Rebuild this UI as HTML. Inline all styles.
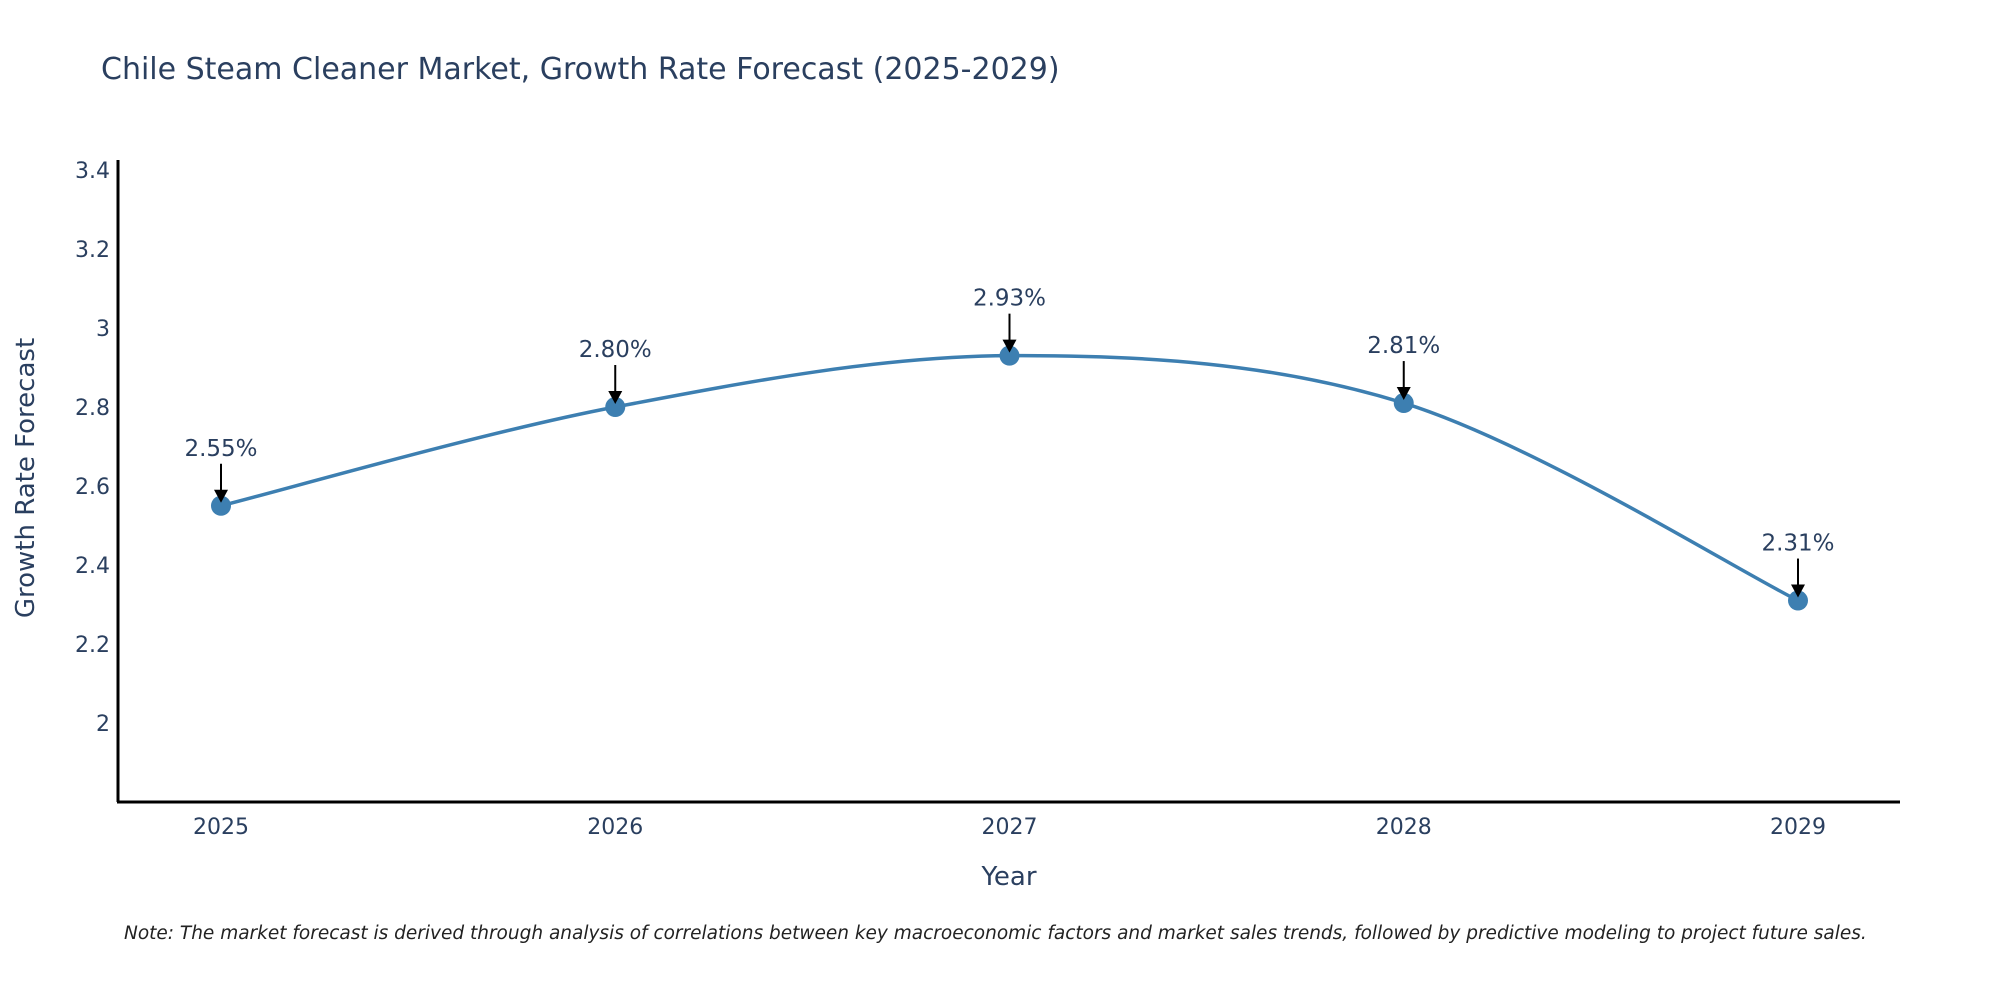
<!DOCTYPE html>
<html><head><meta charset="utf-8"><style>
body{margin:0;background:#fff;}
svg text{font-family:"DejaVu Sans","Liberation Sans",sans-serif;}
</style></head><body>
<svg id="chart" width="2000" height="1000" viewBox="0 0 2000 1000" xmlns="http://www.w3.org/2000/svg">
<rect width="2000" height="1000" fill="#fff"/>
<text x="101" y="79" font-size="30" fill="#2a3f5f">Chile Steam Cleaner Market, Growth Rate Forecast (2025-2029)</text>
<g id="yticks"></g>
<g id="xticks"></g>
<line x1="118" y1="160" x2="118" y2="802" stroke="#000" stroke-width="3"/>
<line x1="117" y1="802" x2="1900" y2="802" stroke="#000" stroke-width="3"/>
<path id="series" fill="none" stroke="#3d7fb1" stroke-width="3.5"/>
<g id="points"></g>
<g id="annots"></g>
<text x="1009" y="885" font-size="26" fill="#2a3f5f" text-anchor="middle">Year</text>
<text transform="translate(34,478) rotate(-90)" font-size="26" fill="#2a3f5f" text-anchor="middle">Growth Rate Forecast</text>
<text x="124" y="939" font-size="18.5" font-style="italic" fill="#222">Note: The market forecast is derived through analysis of correlations between key macroeconomic factors and market sales trends, followed by predictive modeling to project future sales.</text>
</svg>
<script>
const years = [2025, 2026, 2027, 2028, 2029];
const growth = [2.55, 2.80, 2.93, 2.81, 2.31];
const labels = ["2.55%", "2.80%", "2.93%", "2.81%", "2.31%"];
const yTickVals = [2, 2.2, 2.4, 2.6, 2.8, 3, 3.2, 3.4];
const yTickLabels = ["2", "2.2", "2.4", "2.6", "2.8", "3", "3.2", "3.4"];

const NS = "http://www.w3.org/2000/svg";
function xs(v){ return 221 + (v - 2025) * 394.25; }
function ys(v){ return 723 - (v - 2) * 395; }
function mk(tag, attrs, parent){ const e=document.createElementNS(NS,tag); for(const k in attrs) e.setAttribute(k,attrs[k]); parent.appendChild(e); return e; }

const yt=document.getElementById('yticks');
yTickVals.forEach((v,i)=>{
  const t=mk('text',{x:110,y:ys(v)+8,'font-size':22,fill:'#2a3f5f','text-anchor':'end'},yt);
  
  
  t.textContent=yTickLabels[i];
});
const xt=document.getElementById('xticks');
years.forEach(v=>{
  const t=mk('text',{x:xs(v),y:834,'font-size':22,fill:'#2a3f5f','text-anchor':'middle'},xt);
  
  
  t.textContent=String(v);
});

const P=years.map((y,i)=>[xs(y),ys(growth[i])]);
let d=`M${P[0][0]},${P[0][1]}`;
const s=0.33;
for(let i=0;i<P.length-1;i++){
  const p0=P[Math.max(0,i-1)],p1=P[i],p2=P[i+1],p3=P[Math.min(P.length-1,i+2)];
  const c1=[p1[0]+(p2[0]-p0[0])*s/2,p1[1]+(p2[1]-p0[1])*s/2];
  const c2=[p2[0]-(p3[0]-p1[0])*s/2,p2[1]-(p3[1]-p1[1])*s/2];
  d+=` C${c1[0]},${c1[1]} ${c2[0]},${c2[1]} ${p2[0]},${p2[1]}`;
}
document.getElementById('series').setAttribute('d',d);

const pts=document.getElementById('points'), an=document.getElementById('annots');
P.forEach((p,i)=>{
  const c=mk('circle',{cx:p[0],cy:p[1],r:10,fill:'#3d7fb1'},pts);
  
  
  const l=mk('line',{x1:p[0],y1:p[1]-42,x2:p[0],y2:p[1]-14,stroke:'#000','stroke-width':2},an);
  
  
  const h=mk('polygon',{points:`${p[0]-7},${p[1]-16} ${p[0]+7},${p[1]-16} ${p[0]},${p[1]-3}`,fill:'#000'},an);
  
  
  const t=mk('text',{x:p[0],y:p[1]-50,'font-size':23,fill:'#2a3f5f','text-anchor':'middle'},an);
  
  
  t.textContent=labels[i];
});
</script>
</body></html>
